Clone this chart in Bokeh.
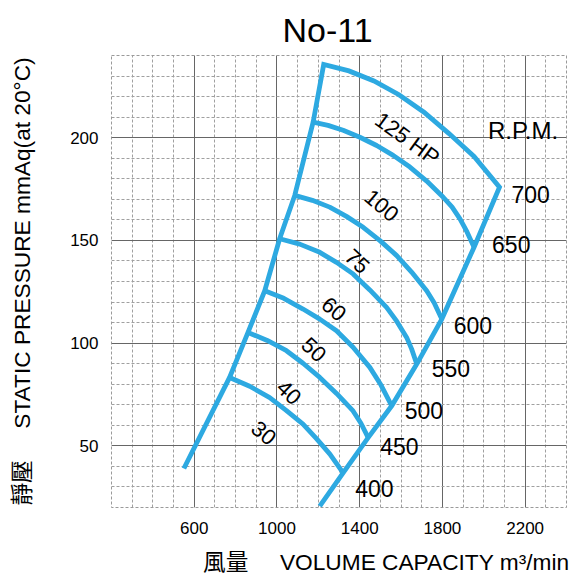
from bokeh.plotting import figure
from bokeh.models import Range1d, FixedTicker, Label
from bokeh.embed import file_html
from bokeh.resources import INLINE

# ---- data (volume m3/min , static pressure mmAq) ----
hp_names = ["125 HP", "100", "75", "60", "50", "40", "30"]
rpm_names = ["700", "650", "600", "550", "500", "450", "400"]

hp125_x = [1226, 1348, 1469, 1590, 1711, 1832, 1953, 2076]
hp125_y = [235.6, 232.5, 227.6, 220.9, 212.4, 202.0, 190.9, 175.9]
hp100_x = [1175, 1247, 1320, 1401, 1482, 1562, 1643, 1724, 1804, 1847, 1885, 1919, 1953]
hp100_y = [207.6, 206.0, 203.6, 200.2, 196.2, 191.4, 185.7, 178.9, 171.0, 166.2, 160.5, 154.1, 146.7]
hp75_x = [1086, 1171, 1255, 1336, 1417, 1498, 1579, 1651, 1724, 1760, 1797]
hp75_y = [171.9, 169.5, 166.2, 161.7, 156.4, 149.9, 142.6, 134.6, 125.5, 119.7, 111.7]
hp60_x = [1013, 1110, 1207, 1288, 1368, 1449, 1530, 1579, 1627, 1651, 1676]
hp60_y = [150.8, 148.2, 144.2, 139.3, 133.7, 125.9, 117.4, 110.7, 102.8, 97.2, 89.8]
hp50_x = [941, 1033, 1126, 1207, 1288, 1368, 1449, 1503, 1555]
hp50_y = [125.5, 121.8, 116.6, 111.7, 106.0, 98.0, 88.2, 79.6, 69.5]
hp40_x = [860, 953, 1046, 1126, 1207, 1288, 1368, 1406, 1441]
hp40_y = [105.2, 101.3, 96.3, 90.2, 83.3, 75.5, 67.0, 61.0, 54.0]
hp30_x = [771, 868, 965, 1046, 1126, 1191, 1256, 1320]
hp30_y = [83.3, 79.0, 73.5, 67.2, 60.6, 53.5, 46.0, 36.9]

# lower ends of the two boundary lines
left_end_x, left_end_y = [550], [39.0]
right_end_x, right_end_y = [1207], [20.7]

x_ticks = [600, 1000, 1400, 1800, 2200]
y_ticks = [50, 100, 150, 200]

# annotation anchors (data units)
hp_label_x = [1630, 1506, 1388, 1275, 1178, 1058, 936]
hp_label_y = [199.5, 167.0, 139.8, 116.6, 96.8, 76.0, 56.2]
hp_label_angle = [-36, -40, -43, -40, -43, -43, -40]
rpm_dx = [12, 18, 12, 15, 13, 12, 12]
rpm_dy = [-7, 3, -6, -4, -5, -9, -16]

curves_x = [hp125_x, hp100_x, hp75_x, hp60_x, hp50_x, hp40_x, hp30_x]
curves_y = [hp125_y, hp100_y, hp75_y, hp60_y, hp50_y, hp40_y, hp30_y]

BLUE = "#2DA9E1"
FONT = "Liberation Sans, Noto Sans CJK TC"
NB = "\u00a0"

p = figure(frame_width=455, frame_height=452, output_backend="svg", toolbar_location=None,
           x_range=Range1d(200, 2400), y_range=Range1d(20, 240),
           min_border_left=111, min_border_right=14, min_border_top=55,
           min_border_bottom=40)
p.background_fill_color = "white"
p.border_fill_color = "white"
p.outline_line_color = "#9a9a9a"
p.outline_line_dash = "3 2"

p.title.text = "No-11"
p.title.align = "left"
p.title.offset = 171
p.title.standoff = 14
p.title.text_font = "Liberation Sans"
p.title.text_font_size = "34px"
p.title.text_font_style = "normal"
p.title.text_color = "black"

p.xaxis.ticker = FixedTicker(ticks=x_ticks, minor_ticks=list(range(200, 2401, 100)))
p.yaxis.ticker = FixedTicker(ticks=y_ticks, minor_ticks=list(range(20, 241, 10)))
for ax in (p.xaxis, p.yaxis):
    ax.axis_line_color = None
    ax.major_tick_line_color = None
    ax.minor_tick_line_color = None
    ax.major_label_text_font = "Liberation Sans"
    ax.major_label_text_font_size = "17px"
    ax.major_label_text_color = "black"
    ax.axis_label_text_font = FONT
    ax.axis_label_text_font_size = "22.7px"
    ax.axis_label_text_font_style = "normal"
    ax.axis_label_text_color = "black"
p.xaxis.major_label_standoff = 8
p.yaxis.major_label_standoff = 7

p.yaxis.axis_label = "靜壓" + NB * 5 + "STATIC PRESSURE mmAq(at 20°C)"
p.yaxis.axis_label_standoff = 32
p.xaxis.axis_label = NB * 15 + "風量" + NB * 5 + "VOLUME CAPACITY m³/min"
p.xaxis.axis_label_standoff = 12

for g in (p.xgrid, p.ygrid):
    g.grid_line_color = "#666666"
    g.grid_line_width = 1
    g.minor_grid_line_color = "#a0a0a0"
    g.minor_grid_line_dash = "3 2"
    g.minor_grid_line_width = 1

# outline: left boundary (bottom -> top), 125 HP curve, right boundary (top -> bottom)
left_x = left_end_x + [c[0] for c in curves_x[::-1]]
left_y = left_end_y + [c[0] for c in curves_y[::-1]]
right_x = [c[-1] for c in curves_x] + right_end_x
right_y = [c[-1] for c in curves_y] + right_end_y
outline_x = left_x + hp125_x[1:] + right_x[1:]
outline_y = left_y + hp125_y[1:] + right_y[1:]
p.line(outline_x, outline_y, line_color=BLUE, line_width=4.8,
       line_join="miter", line_cap="butt")
for cx, cy in zip(curves_x[1:], curves_y[1:]):
    p.line(cx, cy, line_color=BLUE, line_width=4.8, line_join="round", line_cap="butt")

# HP labels
for name, lx, ly, ang in zip(hp_names, hp_label_x, hp_label_y, hp_label_angle):
    p.add_layout(Label(x=lx, y=ly, text=name, angle=ang, angle_units="deg",
                       text_font="Liberation Sans", text_font_size="22px",
                       text_align="center", text_baseline="middle", text_color="black"))

# RPM labels at the curve ends
for name, cx, cy, dx, dy in zip(rpm_names, curves_x, curves_y, rpm_dx, rpm_dy):
    p.add_layout(Label(x=cx[-1], y=cy[-1], x_offset=dx, y_offset=dy, text=name,
                       text_font="Liberation Sans", text_font_size="23px",
                       text_align="left", text_baseline="middle", text_color="black"))
p.add_layout(Label(x=2190, y=203.6, text="R.P.M.", text_font="Liberation Sans",
                   text_font_size="24px", text_align="center", text_baseline="middle",
                   text_color="black"))

open("out.html", "w").write(file_html(p, INLINE))
